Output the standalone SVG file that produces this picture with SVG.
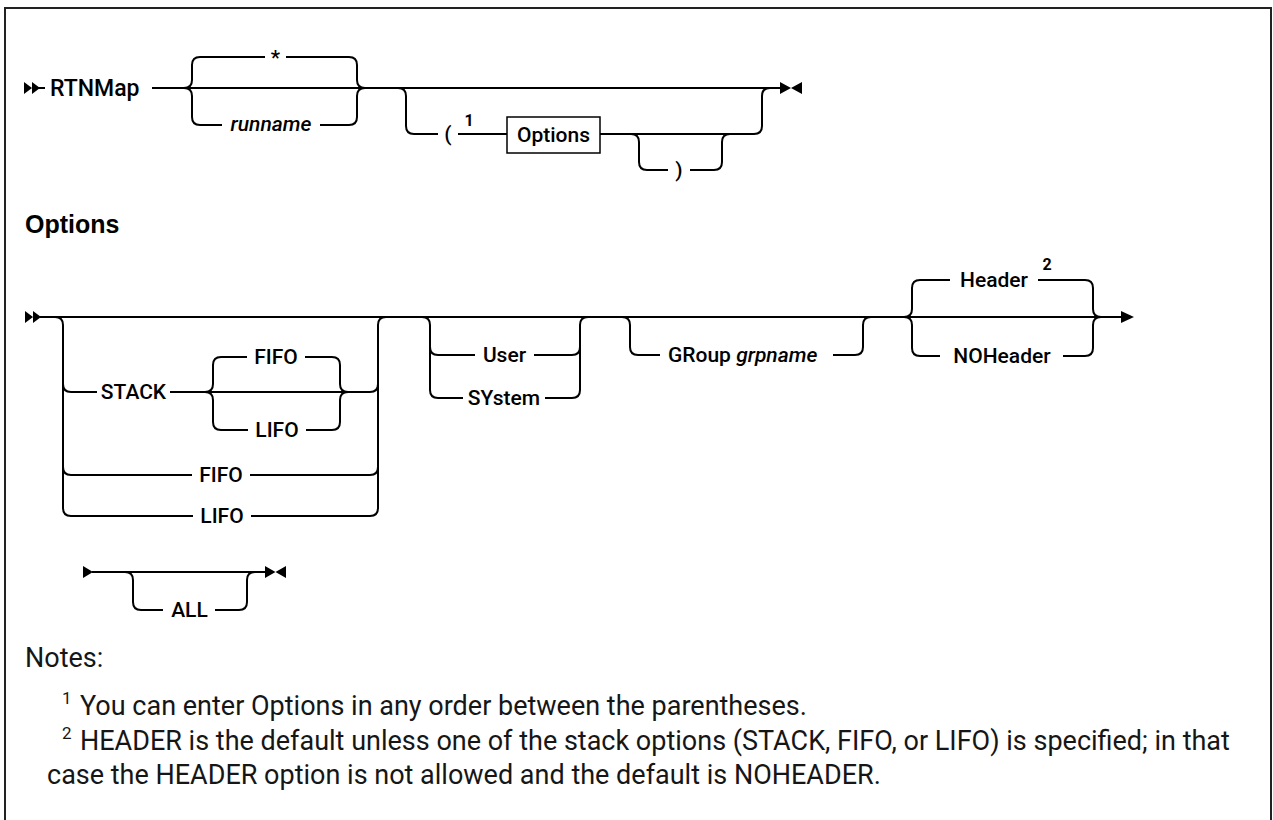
<svg xmlns="http://www.w3.org/2000/svg" width="1273" height="820" viewBox="0 0 1273 820">
<style>
.ln{fill:none;stroke:#000;stroke-width:2;stroke-linecap:butt}
.mk{fill:#000;stroke:none}
.lb{font-family:Roboto,"Liberation Sans",sans-serif;font-weight:500;font-size:21px;fill:#000}
.it{font-style:italic}
.sup{font-family:Roboto,"Liberation Sans",sans-serif;font-weight:700;font-size:16px;fill:#000}
.hd{font-family:"Liberation Sans",Arial,sans-serif;font-weight:700;font-size:25px;fill:#000}
.nt{font-family:Roboto,"Liberation Sans",sans-serif;font-weight:400;font-size:27px;fill:#161616}
.ns{font-family:Roboto,"Liberation Sans",sans-serif;font-weight:400;font-size:17px;fill:#161616}
</style>
<rect x="0" y="0" width="1273" height="820" fill="#fff"/>
<path d="M5 830 L5 8 L1271 8 L1271 830" fill="none" stroke="#222" stroke-width="2"/>

<g id="connectors">
<!-- Row 1 -->
<path class="ln" d="M38 88 L45 88"/>
<path class="ln" d="M152 88 L780 88"/>
<path class="ln" d="M184 88 Q192 88 192 80 L192 65 Q192 57 200 57 L265 57 M286 57 L349 57 Q357 57 357 65 L357 80 Q357 88 365 88"/>
<path class="ln" d="M184 88 Q192 88 192 96 L192 117 Q192 125 200 125 L222 125 M320 125 L349 125 Q357 125 357 117 L357 96 Q357 88 365 88"/>
<path class="ln" d="M398 88 Q406 88 406 96 L406 126 Q406 134 414 134 L438 134 M458 134 L507 134 M600 134 L754 134 Q762 134 762 126 L762 96 Q762 88 770 88"/>
<path class="ln" d="M631 134 Q639 134 639 142 L639 162 Q639 170 647 170 L668 170 M690 170 L714 170 Q722 170 722 162 L722 142 Q722 134 730 134"/>
<!-- Row 2 -->
<path class="ln" d="M40 317 L1122 317"/>
<path class="ln" d="M55 317 Q63 317 63 325 L63 508 Q63 516 71 516 L193 516 M251 516 L370 516 Q378 516 378 508 L378 325 Q378 317 386 317"/>
<path class="ln" d="M63 384 Q63 392 71 392 L97 392 M170 392 L370 392 Q378 392 378 384"/>
<path class="ln" d="M63 467 Q63 475 71 475 L192 475 M250 475 L370 475 Q378 475 378 467"/>
<path class="ln" d="M205 392 Q213 392 213 384 L213 365 Q213 357 221 357 L247 357 M305 357 L332 357 Q340 357 340 365 L340 384 Q340 392 348 392"/>
<path class="ln" d="M205 392 Q213 392 213 400 L213 422 Q213 430 221 430 L248 430 M306 430 L332 430 Q340 430 340 422 L340 400 Q340 392 348 392"/>
<path class="ln" d="M422 317 Q430 317 430 325 L430 390 Q430 398 438 398 L463 398 M545 398 L572 398 Q580 398 580 390 L580 325 Q580 317 588 317"/>
<path class="ln" d="M430 347 Q430 355 438 355 L475 355 M534 355 L572 355 Q580 355 580 347"/>
<path class="ln" d="M622 317 Q630 317 630 325 L630 347 Q630 355 638 355 L660 355 M833 355 L855 355 Q863 355 863 347 L863 325 Q863 317 871 317"/>
<path class="ln" d="M904 317 Q912 317 912 309 L912 288 Q912 280 920 280 L950 280 M1038 280 L1085 280 Q1093 280 1093 288 L1093 309 Q1093 317 1101 317"/>
<path class="ln" d="M904 317 Q912 317 912 325 L912 348 Q912 356 920 356 L940 356 M1063 356 L1085 356 Q1093 356 1093 348 L1093 325 Q1093 317 1101 317"/>
<!-- Row 3 -->
<path class="ln" d="M92 572 L266 572"/>
<path class="ln" d="M125 572 Q133 572 133 580 L133 602 Q133 610 141 610 L163 610 M215 610 L239 610 Q247 610 247 602 L247 580 Q247 572 255 572"/>
<!-- markers -->
<path class="mk" d="M24 82 L32 88 L24 94 Z M32 82 L40 88 L32 94 Z"/>
<path class="mk" d="M780 82 L791 88 L780 94 Z M802 82 L791 88 L802 94 Z"/>
<path class="mk" d="M25 311 L33 317 L25 323 Z M33 311 L41 317 L33 323 Z"/>
<path class="mk" d="M1121 311 L1134 317 L1121 323 Z"/>
<path class="mk" d="M83 566 L93 572 L83 578 Z"/>
<path class="mk" d="M265 566 L275.5 572 L265 578 Z M286 566 L275.5 572 L286 578 Z"/>
</g>

<g id="node-rtnmap"><text class="lb" x="50" y="96" style="font-size:23px">RTNMap</text></g>
<g id="node-star"><text class="lb" x="275.5" y="65" text-anchor="middle">*</text></g>
<g id="node-runname"><text class="lb it" x="271" y="131" text-anchor="middle">runname</text></g>
<g id="node-lparen"><text class="lb" x="448" y="141" text-anchor="middle">(</text><text class="sup" x="469" y="126" text-anchor="middle">1</text></g>
<g id="node-options-ref"><rect x="507" y="117" width="93" height="36" fill="#fff" stroke="#000" stroke-width="1.5"/><text class="lb" x="553.5" y="142" text-anchor="middle">Options</text></g>
<g id="node-rparen"><text class="lb" x="679" y="177" text-anchor="middle">)</text></g>

<g id="heading-options"><text class="hd" x="25" y="233">Options</text></g>

<g id="node-stack"><text class="lb" x="133.5" y="399" text-anchor="middle">STACK</text></g>
<g id="node-stack-fifo"><text class="lb" x="276" y="364" text-anchor="middle">FIFO</text></g>
<g id="node-stack-lifo"><text class="lb" x="277" y="437" text-anchor="middle">LIFO</text></g>
<g id="node-fifo"><text class="lb" x="221" y="482" text-anchor="middle">FIFO</text></g>
<g id="node-lifo"><text class="lb" x="222" y="523" text-anchor="middle">LIFO</text></g>
<g id="node-user"><text class="lb" x="504.5" y="362" text-anchor="middle">User</text></g>
<g id="node-system"><text class="lb" x="504" y="405" text-anchor="middle">SYstem</text></g>
<g id="node-group"><text class="lb" x="668" y="362">GRoup <tspan class="it">grpname</tspan></text></g>
<g id="node-header"><text class="lb" x="994" y="287" text-anchor="middle">Header</text><text class="sup" x="1047" y="270" text-anchor="middle">2</text></g>
<g id="node-noheader"><text class="lb" x="1002" y="363" text-anchor="middle">NOHeader</text></g>
<g id="node-all"><text class="lb" x="189.5" y="617" text-anchor="middle">ALL</text></g>

<g id="notes">
<text class="nt" x="25" y="667">Notes:</text>
<text class="ns" x="62" y="704">1</text>
<text class="nt" x="80" y="715">You can enter Options in any order between the parentheses.</text>
<text class="ns" x="62" y="739">2</text>
<text class="nt" x="80" y="750">HEADER is the default unless one of the stack options (STACK, FIFO, or LIFO) is specified; in that</text>
<text class="nt" x="47" y="784">case the HEADER option is not allowed and the default is NOHEADER.</text>
</g>
</svg>
